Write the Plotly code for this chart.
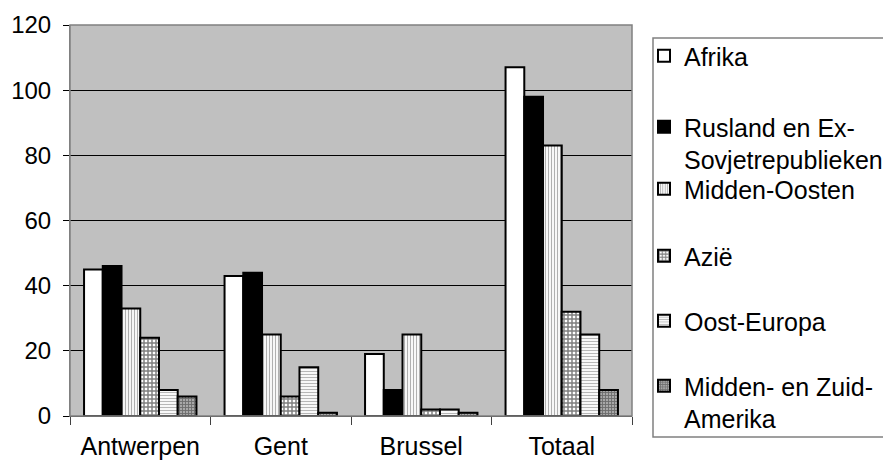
import plotly.graph_objects as go

# Datos
steden = ["Antwerpen", "Gent", "Brussel", "Totaal"]
afrika = [45, 43, 19, 107]
rusland = [46, 44, 8, 98]
midden_oosten = [33, 25, 25, 83]
azie = [24, 6, 2, 32]
oost_europa = [8, 15, 2, 25]
midden_zuid_amerika = [6, 1, 1, 8]
y_ticks = [0, 20, 40, 60, 80, 100, 120]

text_color = "black"
font_family = "Liberation Sans, Arial, sans-serif"
OFF = 8  # margen del body de la página
W, H = 891 - OFF, 462 - OFF
L, R, T, B = 70 - OFF, 891 - 632, 25 - OFF, 462 - 416


def px_x(x):
    # píxel de la página -> coordenada del contenedor
    return (x - OFF) / W


def px_y(y):
    return 1 - (y - OFF) / H


series = [
    ("Afrika", afrika, dict(color="white")),
    ("Rusland en Ex-<br>Sovjetrepublieken", rusland, dict(color="black")),
    ("Midden-Oosten", midden_oosten,
     dict(color="white", pattern=dict(shape="|", fgcolor="#606060", bgcolor="white", size=3, solidity=0.4))),
    ("Azië", azie,
     dict(color="white", pattern=dict(shape="+", fgcolor="black", bgcolor="white", size=4, solidity=0.6))),
    ("Oost-Europa", oost_europa,
     dict(color="white", pattern=dict(shape="-", fgcolor="#707070", bgcolor="white", size=3, solidity=0.4))),
    ("Midden- en Zuid-<br>Amerika", midden_zuid_amerika,
     dict(color="#a0a0a0", pattern=dict(shape="+", fgcolor="#303030", bgcolor="#a8a8a8", size=3, solidity=0.5))),
]

# posición (px en la página) de la primera línea de cada entrada de leyenda
legend_rows = [58, 127, 190, 257, 322, 387]
legend_shift = [25, 23, 24, 24, 24, 24]

fig = go.Figure()
layout_legends = {}
for i, (name, vals, marker) in enumerate(series):
    key = "legend" if i == 0 else "legend%d" % (i + 1)
    fig.add_trace(go.Bar(
        x=steden, y=vals, name=name,
        marker=dict(line=dict(color="black", width=2), **marker),
        legend=key,
    ))
    layout_legends[key] = dict(
        xref="container", yref="container",
        x=px_x(644), y=px_y(legend_rows[i] - legend_shift[i]),
        xanchor="left", yanchor="top",
        bgcolor="rgba(0,0,0,0)", borderwidth=0,
        valign="top", itemwidth=30,
        font=dict(family=font_family, size=25, color=text_color),
    )

# Marco de la leyenda
pw, ph = W - L - R, H - T - B
fig.add_shape(type="rect", xref="paper", yref="paper",
              x0=(653 - 70) / pw, x1=(888 - 70) / pw,
              y0=(416 - 437) / ph, y1=(416 - 38) / ph,
              line=dict(color="#808080", width=1.5), fillcolor="white", layer="below")
# Borde del área de trazado
fig.add_shape(type="rect", xref="paper", yref="paper", x0=0, x1=1, y0=0, y1=1,
              line=dict(color="#808080", width=1.5), layer="above")

fig.update_layout(
    width=W, height=H,
    margin=dict(l=L, r=R, t=T, b=B, autoexpand=False),
    plot_bgcolor="#c0c0c0",
    paper_bgcolor="white",
    barmode="group",
    bargap=0.2,
    bargroupgap=0,
    showlegend=True,
    font=dict(family=font_family, size=24, color=text_color),
    xaxis=dict(
        tickson="boundaries", ticks="outside", ticklen=8, tickcolor="#404040",
        showline=True, linecolor="#404040", linewidth=1,
        showgrid=False, ticklabelstandoff=8, automargin=False,
        tickfont=dict(size=25, color=text_color),
    ),
    yaxis=dict(
        range=[0, 120], tickvals=y_ticks,
        ticks="outside", ticklen=6, tickcolor="black",
        showgrid=True, gridcolor="black", gridwidth=1,
        zeroline=False, ticklabelstandoff=7, automargin=False,
        showline=True, linecolor="#808080",
        tickfont=dict(size=24, color=text_color),
    ),
    **layout_legends,
)

fig.write_html("out.html")
